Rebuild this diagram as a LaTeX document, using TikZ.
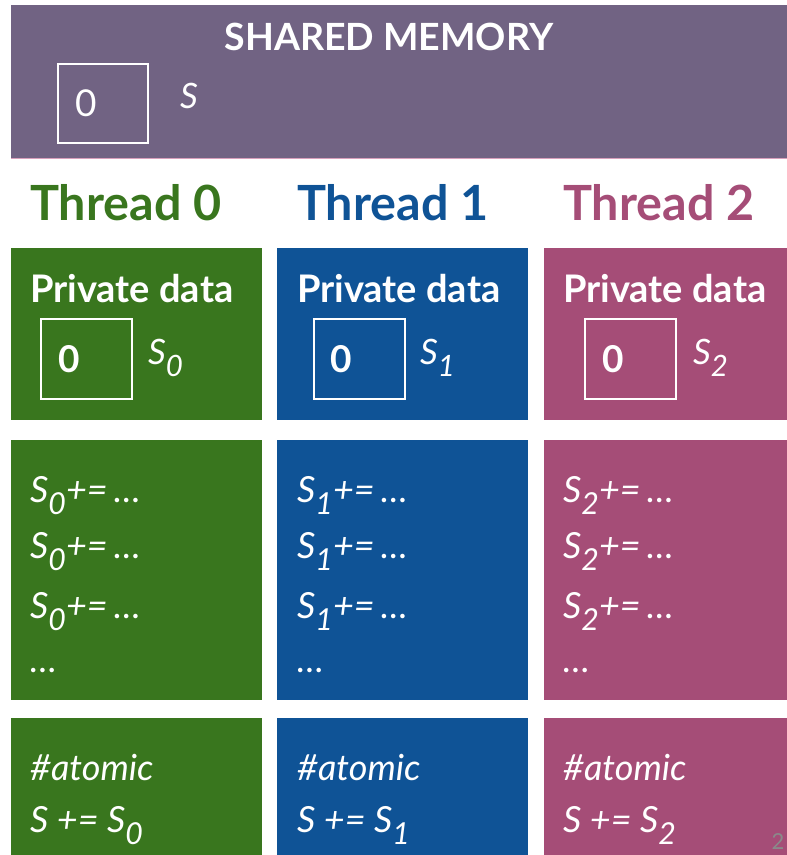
\documentclass[tikz,border=0pt]{standalone}
\usepackage{fontspec}
\usepackage{graphicx}
\setmainfont{Lato}
\definecolor{memPurple}{HTML}{716383}
\definecolor{thGreen}{HTML}{39761E}
\definecolor{thBlue}{HTML}{0F5396}
\definecolor{thPink}{HTML}{A54D77}
\definecolor{edgePink}{HTML}{D8A0BC}
\definecolor{pageGray}{HTML}{8A8A8A}
% subscript: smaller and dropped below the baseline
\newcommand\lowsub[1]{\raisebox{-0.36em}{\scalebox{0.84}{#1}}}
\tikzset{
  panel/.style={fill=#1, draw=none, inner sep=0pt, anchor=north west},
  valbox/.style={draw=white, line width=1.5pt, fill=none, inner sep=0pt, anchor=north west},
  ttl/.style={font=\fontsize{37.5}{40}\selectfont\bfseries, text=white, inner sep=0pt, anchor=base},
  thlabel/.style={font=\fontsize{48.5}{50}\selectfont\bfseries, text=#1, inner sep=0pt, anchor=base west},
  hdr/.style={font=\fontsize{38}{40}\selectfont\bfseries, text=white, inner sep=0pt, anchor=base west},
  zero/.style={font=\fontsize{37}{40}\selectfont\bfseries, text=white, inner sep=0pt, anchor=base},
  var/.style={font=\fontsize{35}{36}\selectfont\itshape, text=white, inner sep=0pt, anchor=base west},
  code/.style={font=\fontsize{36}{38}\selectfont\itshape, text=white, inner sep=0pt, anchor=base west},
}
\begin{document}
\begin{tikzpicture}[x=1pt, y=-1pt]
\useasboundingbox (0,0) rectangle (787,855);
\clip (0,0) rectangle (787,855);
\fill[white] (0,0) rectangle (787,855);

% shared memory band
\node[panel=memPurple, minimum width=776pt, minimum height=153pt] (shared) at (11,5) {};
\draw[edgePink, line width=1pt] (shared.south west) -- (shared.south east);
\node[ttl] (sharedTitle) at (389,50) {SHARED MEMORY};
\node[valbox, minimum width=90pt, minimum height=79pt] (sharedBox) at (57,63) {};
\node[font=\fontsize{37}{40}\selectfont, text=white, inner sep=0pt, anchor=base] (sharedZero) at (86,116) {0};
\node[var] (sharedS) at (180,108) {S};

% thread columns
\foreach \i/\col/\cx/\tx/\bx/\zx/\sx in {0/thGreen/11/30/40/69/148, 1/thBlue/277/297/313/341/420, 2/thPink/544/563/584/613/693}{
  \node[thlabel=\col] (thread\i) at (\tx,220) {Thread \i};

  \node[panel=\col, minimum width=251pt, minimum height=172pt] (priv\i) at (\cx,248) {};
  \node[hdr] (privHdr\i) at (\tx,302) {Private data};
  \node[valbox, minimum width=91pt, minimum height=80pt] (privBox\i) at (\bx,318) {};
  \node[zero] (privZero\i) at (\zx,372) {0};
  \node[var] (privS\i) at (\sx,364) {S\lowsub{\i}};

  \node[panel=\col, minimum width=251pt, minimum height=260pt] (loop\i) at (\cx,440) {};
  \node[code] (loopA\i) at (\tx,502) {S\lowsub{\i}+=\,\ldots};
  \node[code] (loopB\i) at (\tx,558) {S\lowsub{\i}+=\,\ldots};
  \node[code] (loopC\i) at (\tx,618) {S\lowsub{\i}+=\,\ldots};
  \node[code] (loopD\i) at (\tx,672) {\ldots};

  \node[panel=\col, minimum width=251pt, minimum height=140pt] (atom\i) at (\cx,718) {};
  \node[code] (atomA\i) at (\tx,780) {\#atomic};
  \node[code] (atomB\i) at (\tx,832) {S += S\lowsub{\i}};
}

% slide number
\node[font=\fontsize{22}{24}\selectfont, text=pageGray, inner sep=0pt, anchor=base] (pageNo) at (778,849) {2};
\end{tikzpicture}
\end{document}
